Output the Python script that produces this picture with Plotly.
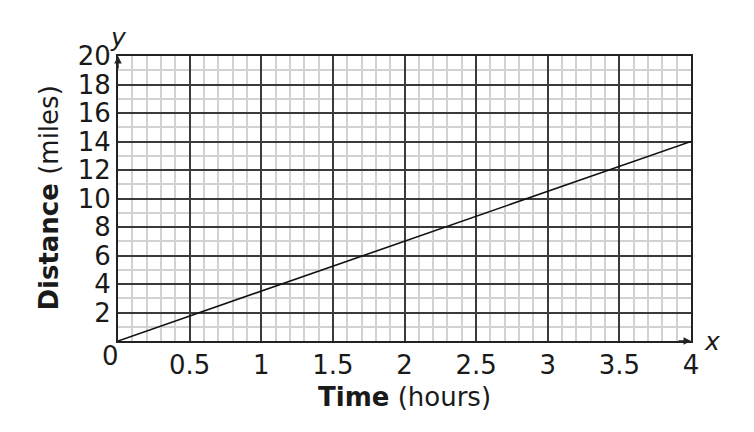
import plotly.graph_objects as go

# data
time_hours = [0, 4]
distance_miles = [0, 14]
x_ticks = [0, 0.5, 1, 1.5, 2, 2.5, 3, 3.5, 4]
x_tick_text = ["", "0.5", "1", "1.5", "2", "2.5", "3", "3.5", "4"]
y_ticks = [0, 2, 4, 6, 8, 10, 12, 14, 16, 18, 20]
y_tick_text = ["", "2", "4", "6", "8", "10", "12", "14", "16", "18", "20"]

FONT = "DejaVu Sans"
INK = "#1a1a1a"

fig = go.Figure()
fig.add_trace(go.Scatter(x=time_hours, y=distance_miles, mode="lines",
                         line=dict(color="#111111", width=1.6),
                         hoverinfo="skip", showlegend=False))

axis_common = dict(
    showline=True, linecolor="#222222", linewidth=2, mirror=True,
    showgrid=True, gridcolor="#3a3a3a", gridwidth=2,
    zeroline=False, ticks="", fixedrange=True,
    tickfont=dict(family=FONT, size=26, color=INK),
)

fig.update_xaxes(range=[0, 4], tickmode="array", tickvals=x_ticks, ticktext=x_tick_text,
                 minor=dict(dtick=0.1, tick0=0, showgrid=True, gridcolor="#d2d2d2", gridwidth=1.5),
                 **axis_common)
fig.update_yaxes(range=[0, 20], tickmode="array", tickvals=y_ticks, ticktext=y_tick_text,
                 minor=dict(dtick=1, tick0=0, showgrid=True, gridcolor="#d2d2d2", gridwidth=1.5),
                 **axis_common)

ann = [
    # origin label
    dict(x=0, y=0, xref="x", yref="y", text="0", showarrow=False,
         xanchor="center", yanchor="middle", xshift=-8, yshift=-15,
         font=dict(family=FONT, size=26, color=INK)),
    # axis letters
    dict(x=0, y=20, xref="x", yref="y", text="<i>y</i>", showarrow=False,
         xanchor="center", yanchor="middle", xshift=0, yshift=19,
         font=dict(family=FONT, size=25, color=INK)),
    dict(x=4, y=0, xref="x", yref="y", text="<i>x</i>", showarrow=False,
         xanchor="center", yanchor="middle", xshift=21, yshift=0,
         font=dict(family=FONT, size=25, color=INK)),
    # axis arrows
    dict(x=4, y=0, xref="x", yref="y", ax=-14, ay=0, text="", showarrow=True,
         arrowhead=2, arrowsize=1, arrowwidth=1.5, arrowcolor="#222222"),
    dict(x=0, y=20, xref="x", yref="y", ax=0, ay=14, text="", showarrow=True,
         arrowhead=2, arrowsize=1, arrowwidth=1.5, arrowcolor="#222222"),
    # axis titles
    dict(x=0.5, y=-0.196, xref="paper", yref="paper", text="<b>Time</b> (hours)",
         showarrow=False, xanchor="center", yanchor="middle",
         font=dict(family=FONT, size=26, color=INK)),
    dict(x=-0.122, y=0.5, xref="paper", yref="paper", text="<b>Distance</b> (miles)",
         showarrow=False, xanchor="center", yanchor="middle", textangle=-90,
         font=dict(family=FONT, size=26, color=INK)),
]

fig.update_layout(
    width=754, height=432,
    margin=dict(l=110, r=71, t=48, b=99),
    plot_bgcolor="white", paper_bgcolor="white",
    annotations=ann,
)

fig.write_html("out.html")
